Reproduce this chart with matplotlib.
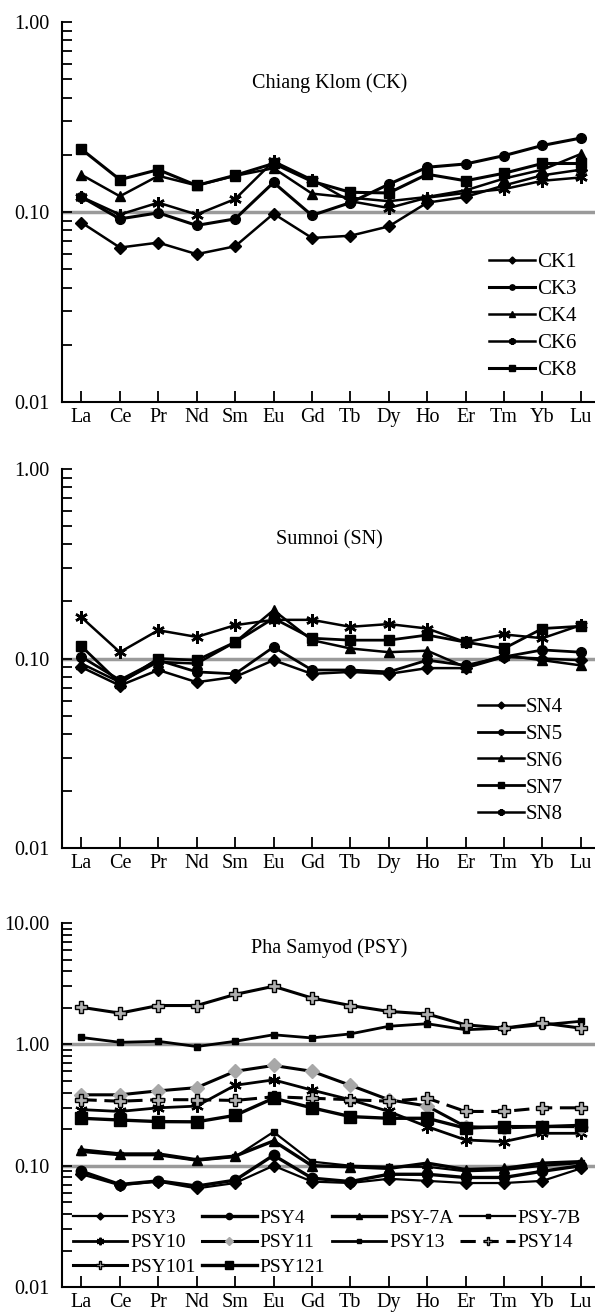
import matplotlib.pyplot as plt
from matplotlib.ticker import LogLocator, NullFormatter

plt.rcParams['font.family'] = ['Liberation Serif', 'DejaVu Serif']

ree = ['La', 'Ce', 'Pr', 'Nd', 'Sm', 'Eu', 'Gd', 'Tb', 'Dy', 'Ho', 'Er', 'Tm', 'Yb', 'Lu']
x = list(range(len(ree)))

# --- Chiang Klom (CK) ---
ck1 = [0.088, 0.065, 0.069, 0.060, 0.066, 0.098, 0.073, 0.075, 0.084, 0.112, 0.120, 0.138, 0.156, 0.167]
ck3 = [0.120, 0.092, 0.099, 0.085, 0.092, 0.143, 0.096, 0.112, 0.140, 0.172, 0.179, 0.198, 0.224, 0.245]
ck4 = [0.157, 0.121, 0.155, 0.138, 0.155, 0.170, 0.125, 0.119, 0.114, 0.120, 0.130, 0.150, 0.167, 0.202]
ck6 = [0.120, 0.097, 0.112, 0.097, 0.117, 0.185, 0.148, 0.114, 0.105, 0.119, 0.126, 0.132, 0.146, 0.152]
ck8 = [0.214, 0.148, 0.167, 0.138, 0.156, 0.180, 0.145, 0.127, 0.126, 0.158, 0.146, 0.160, 0.180, 0.180]

# --- Sumnoi (SN) ---
sn4 = [0.090, 0.072, 0.087, 0.075, 0.080, 0.098, 0.083, 0.085, 0.083, 0.089, 0.089, 0.102, 0.100, 0.098]
sn5 = [0.102, 0.077, 0.098, 0.085, 0.083, 0.115, 0.087, 0.087, 0.085, 0.098, 0.092, 0.102, 0.111, 0.108]
sn6 = [0.094, 0.075, 0.096, 0.094, 0.122, 0.180, 0.125, 0.113, 0.108, 0.110, 0.090, 0.104, 0.098, 0.092]
sn7 = [0.116, 0.074, 0.100, 0.098, 0.122, 0.163, 0.128, 0.125, 0.125, 0.133, 0.122, 0.113, 0.144, 0.148]
sn8 = [0.165, 0.108, 0.141, 0.130, 0.150, 0.160, 0.160, 0.147, 0.152, 0.144, 0.122, 0.134, 0.128, 0.150]

# --- Pha Samyod (PSY) ---
psy3 = [0.085, 0.069, 0.074, 0.065, 0.072, 0.100, 0.074, 0.072, 0.078, 0.075, 0.072, 0.072, 0.075, 0.095]
psy4 = [0.090, 0.070, 0.075, 0.068, 0.076, 0.122, 0.079, 0.074, 0.085, 0.085, 0.080, 0.080, 0.090, 0.100]
psy7a = [0.135, 0.125, 0.125, 0.112, 0.120, 0.160, 0.100, 0.098, 0.095, 0.105, 0.093, 0.095, 0.105, 0.108]
psy7b = [0.130, 0.122, 0.122, 0.110, 0.118, 0.190, 0.108, 0.100, 0.098, 0.098, 0.090, 0.092, 0.100, 0.105]
psy10 = [0.290, 0.280, 0.300, 0.310, 0.460, 0.510, 0.420, 0.350, 0.280, 0.210, 0.163, 0.158, 0.185, 0.185]
psy11 = [0.384, 0.384, 0.414, 0.440, 0.600, 0.670, 0.600, 0.460, 0.350, 0.310, 0.210, 0.205, 0.210, 0.210]
psy13 = [1.14, 1.04, 1.06, 0.96, 1.06, 1.20, 1.13, 1.22, 1.41, 1.48, 1.32, 1.36, 1.45, 1.55]
psy14 = [0.350, 0.340, 0.350, 0.350, 0.345, 0.370, 0.360, 0.350, 0.340, 0.360, 0.280, 0.280, 0.300, 0.300]
psy101 = [2.02, 1.81, 2.09, 2.09, 2.58, 3.01, 2.41, 2.09, 1.87, 1.78, 1.45, 1.36, 1.50, 1.36]
psy121 = [0.246, 0.238, 0.231, 0.230, 0.260, 0.360, 0.300, 0.254, 0.246, 0.246, 0.204, 0.210, 0.210, 0.215]

asterisk = (6, 2, 0)
gray = '#9a9a9a'


def style_axis(ax, ymin, ymax, ticks, labels):
    ax.set_yscale('log')
    ax.set_ylim(ymin, ymax)
    ax.set_xlim(-0.51, 13.43)
    ax.set_xticks(x)
    ax.set_xticklabels(ree)
    ax.set_yticks(ticks)
    ax.set_yticklabels(labels)
    ax.yaxis.set_minor_locator(LogLocator(subs=range(2, 10)))
    ax.yaxis.set_minor_formatter(NullFormatter())
    ax.tick_params(axis='x', direction='in', length=8, width=1.3, labelsize=14.5, pad=4)
    ax.tick_params(axis='y', which='both', direction='in', length=7, width=1.3, labelsize=14.5, pad=9)
    for s in ['top', 'right']:
        ax.spines[s].set_visible(False)
    for s in ['left', 'bottom']:
        ax.spines[s].set_linewidth(1.5)


fig = plt.figure(figsize=(5.95, 13.16), dpi=100)

# ---------------- Chiang Klom ----------------
ax1 = fig.add_axes([0.104, 0.6945, 0.90, 0.2888])
ax1.axhline(0.1, color=gray, lw=2.5, zorder=1)
ax1.plot(x, ck1, color='black', lw=1.8, marker='D', ms=6.5, label='CK1')
ax1.plot(x, ck3, color='black', lw=2.2, marker='o', ms=7, label='CK3')
ax1.plot(x, ck4, color='black', lw=1.8, marker='^', ms=7, label='CK4')
ax1.plot(x, ck6, color='black', lw=1.8, marker=asterisk, ms=9, mew=1.8, label='CK6')
ax1.plot(x, ck8, color='black', lw=2.2, marker='s', ms=7, label='CK8')
style_axis(ax1, 0.01, 1.0, [0.01, 0.1, 1.0], ['0.01', '0.10', '1.00'])
ax1.text(0.5, 0.839, 'Chiang Klom (CK)', transform=ax1.transAxes, ha='center', va='center', fontsize=14.5)
ax1.legend(loc='upper left', bbox_to_anchor=(0.778, 0.42), frameon=False, fontsize=15,
           handlelength=2.2, handletextpad=0.1, labelspacing=0.35, borderpad=0, markerscale=0.55)

# ---------------- Sumnoi ----------------
ax2 = fig.add_axes([0.104, 0.3556, 0.90, 0.2880])
ax2.axhline(0.1, color=gray, lw=2.5, zorder=1)
ax2.plot(x, sn4, color='black', lw=1.8, marker='D', ms=6.5, label='SN4')
ax2.plot(x, sn5, color='black', lw=2.0, marker='o', ms=7, label='SN5')
ax2.plot(x, sn6, color='black', lw=1.8, marker='^', ms=7, label='SN6')
ax2.plot(x, sn7, color='black', lw=2.0, marker='s', ms=7, label='SN7')
ax2.plot(x, sn8, color='black', lw=1.8, marker=asterisk, ms=9, mew=1.8, label='SN8')
style_axis(ax2, 0.01, 1.0, [0.01, 0.1, 1.0], ['0.01', '0.10', '1.00'])
ax2.text(0.5, 0.813, 'Sumnoi (SN)', transform=ax2.transAxes, ha='center', va='center', fontsize=14.5)
ax2.legend(loc='upper left', bbox_to_anchor=(0.758, 0.425), frameon=False, fontsize=15,
           handlelength=2.2, handletextpad=0.1, labelspacing=0.35, borderpad=0, markerscale=0.55)

# ---------------- Pha Samyod ----------------
ax3 = fig.add_axes([0.104, 0.0220, 0.90, 0.2766])
ax3.axhline(1.0, color=gray, lw=2.5, zorder=1)
ax3.axhline(0.1, color=gray, lw=2.5, zorder=1)
h3, = ax3.plot(x, psy3, color='black', lw=1.6, marker='D', ms=6, label='PSY3')
h4, = ax3.plot(x, psy4, color='black', lw=2.4, marker='o', ms=7.5, label='PSY4')
h7a, = ax3.plot(x, psy7a, color='black', lw=2.4, marker='^', ms=7, label='PSY-7A')
h7b, = ax3.plot(x, psy7b, color='black', lw=1.6, marker='s', ms=5, label='PSY-7B')
h10, = ax3.plot(x, psy10, color='black', lw=2.0, marker=asterisk, ms=9, mew=1.6, label='PSY10')
h11, = ax3.plot(x, psy11, color='black', lw=2.2, marker='D', ms=7, mfc='#a8a8a8', mec='#a8a8a8', label='PSY11')
h13, = ax3.plot(x, psy13, color='black', lw=2.0, marker='s', ms=4, label='PSY13')
h14, = ax3.plot(x, psy14, color='black', lw=2.2, ls=(0, (5, 2.5)), marker='P', ms=9, mfc='#b0b0b0', mec='black', mew=1.0, label='PSY14')
h101, = ax3.plot(x, psy101, color='black', lw=2.2, marker='P', ms=9, mfc='#b0b0b0', mec='black', mew=1.0, label='PSY101')
h121, = ax3.plot(x, psy121, color='black', lw=2.4, marker='s', ms=8.5, label='PSY121')
style_axis(ax3, 0.01, 10.0, [0.01, 0.1, 1.0, 10.0], ['0.01', '0.10', '1.00', '10.00'])
ax3.text(0.5, 0.931, 'Pha Samyod (PSY)', transform=ax3.transAxes, ha='center', va='center', fontsize=14.5)

order = [h3, h10, h101, h4, h11, h121, h7a, h13, h7b, h14]
ax3.legend(handles=order, labels=[h.get_label() for h in order], ncol=4,
           loc='upper left', bbox_to_anchor=(0.002, 0.24), frameon=False, fontsize=14,
           handlelength=2.8, handletextpad=0.15, labelspacing=0.35, columnspacing=0.35,
           borderpad=0, markerscale=0.6)

fig.savefig('out.png', dpi=100)
